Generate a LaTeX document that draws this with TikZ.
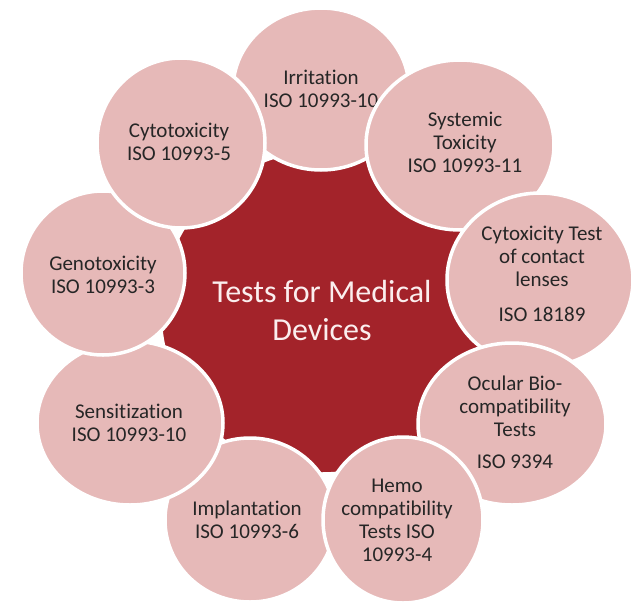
\documentclass[tikz,border=0pt]{standalone}
\usepackage{fontspec}
\setmainfont{Carlito}[Ligatures={NoCommon}]
\definecolor{ringpink}{HTML}{E6B9B8}
\definecolor{hubred}{HTML}{A3232A}
\definecolor{labelgray}{HTML}{262626}
\definecolor{hubwhite}{HTML}{FBEEEE}
\begin{document}
\begin{tikzpicture}[x=1pt,y=-1pt,
  petal/.style={fill=ringpink, draw=white, line width=3.5pt},
  hub/.style={fill=hubred, draw=white, line width=3.5pt},
  petaltext/.style={align=center, text=labelgray, inner sep=0pt,
    font=\fontsize{21}{23}\selectfont},
  hubtext/.style={align=center, text=hubwhite, inner sep=0pt,
    font=\fontsize{32}{38}\selectfont}]
\useasboundingbox (0,0) rectangle (635,603);
\fill[white] (0,0) rectangle (635,603);

% central hub
\path[hub] (322,312) circle [radius=162pt];
\node[hubtext] (hubtitle) at (322,311) {Tests for Medical\\Devices};

% ring of tests, drawn in stacking order
\path[petal] (321,89) ellipse [x radius=88pt, y radius=81pt];
\node[petaltext] (irritation) at (321,89) {Irritation\\ISO 10993-10};

\path[petal] (250,520) ellipse [x radius=85pt, y radius=82pt];
\node[petaltext] (implantation) at (247,520) {Implantation\\ISO 10993-6};

\path[petal] (460,145) ellipse [x radius=94pt, y radius=85pt];
\node[petaltext] (systemic) at (465,142) {Systemic\\Toxicity\\ISO 10993-11};

\path[petal] (540,280) ellipse [x radius=93pt, y radius=87pt];
\node[petaltext] (lenses) at (542,274) {Cytoxicity Test\\of contact\\lenses\\[12pt]ISO 18189};

\path[petal] (512,424) ellipse [x radius=94pt, y radius=81pt];
\node[petaltext] (ocular) at (515,422) {Ocular Bio-\\compatibility\\Tests\\[9pt]ISO 9394};

\path[petal] (403,520) ellipse [x radius=80pt, y radius=83pt];
\node[petaltext] (hemo) at (397,520) {Hemo\\compatibility\\Tests ISO\\10993-4};

\path[petal] (130,423) ellipse [x radius=93pt, y radius=82pt];
\node[petaltext] (sensitization) at (129,423) {Sensitization\\ISO 10993-10};

\path[petal] (103,273) ellipse [x radius=82pt, y radius=82pt];
\node[petaltext] (genotoxicity) at (103,275) {Genotoxicity\\ISO 10993-3};

\path[petal] (181,143) ellipse [x radius=84pt, y radius=85pt];
\node[petaltext] (cytotoxicity) at (179,142) {Cytotoxicity\\ISO 10993-5};
\end{tikzpicture}
\end{document}
